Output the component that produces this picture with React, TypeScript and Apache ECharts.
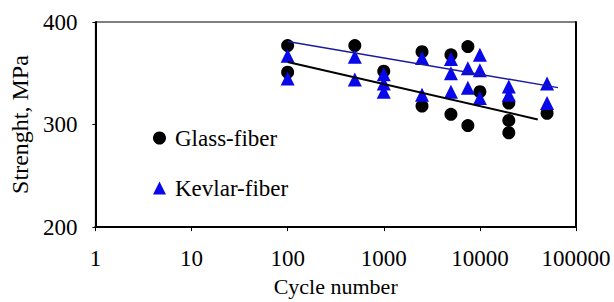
import React, { useEffect, useRef } from "react";
import * as echarts from "echarts";

const glassFiber: [number, number][] = [
  [100, 377], [100, 351],
  [500, 377],
  [1000, 352],
  [2500, 371], [2500, 318],
  [5000, 368], [5000, 310],
  [7500, 376], [7500, 299],
  [10000, 332],
  [20000, 321], [20000, 304], [20000, 292],
  [50000, 311],
];

const kevlarFiber: [number, number][] = [
  [100, 367], [100, 345],
  [500, 366], [500, 344],
  [1000, 349], [1000, 340], [1000, 332],
  [2500, 365], [2500, 329],
  [5000, 364], [5000, 350], [5000, 332],
  [7500, 355], [7500, 336],
  [10000, 368], [10000, 353], [10000, 326],
  [20000, 337], [20000, 329],
  [50000, 340], [50000, 321],
];

const kevlarTrend: [number, number][] = [[100, 381], [65000, 336]];
const glassTrend: [number, number][] = [[100, 361], [40000, 305]];

const xTicks = [1, 10, 100, 1000, 10000, 100000];
const yTicks = [200, 300, 400];

const FONT = "'Liberation Serif', 'Times New Roman', serif";

export default function App() {
  const ref = useRef<HTMLDivElement>(null);
  useEffect(() => {
    if (!ref.current) return;
    const chart = echarts.init(ref.current, undefined, { renderer: "svg" });
    chart.setOption({
      animation: false,
      backgroundColor: "#fff",
      textStyle: { fontFamily: FONT, color: "#000" },
      grid: {
        left: 92,
        right: 38,
        top: 22,
        bottom: 74,
        show: true,
        borderColor: "#000",
        borderWidth: 1,
      },
      legend: {
        data: [
          { name: "Glass-fiber", icon: "circle" },
          { name: "Kevlar-fiber", icon: "triangle" },
        ],
        orient: "vertical",
        left: 148,
        top: 121,
        itemWidth: 13,
        itemHeight: 13,
        itemGap: 26,
        textStyle: {
          fontSize: 23,
          fontFamily: FONT,
          color: "#000",
          lineHeight: 24,
          padding: [0, 0, 0, 4],
        },
      },
      xAxis: {
        type: "log",
        logBase: 10,
        min: xTicks[0],
        max: xTicks[xTicks.length - 1],
        name: "Cycle number",
        nameLocation: "middle",
        nameGap: 47,
        nameTextStyle: { fontSize: 22, fontFamily: FONT, color: "#000" },
        axisLine: { show: true, lineStyle: { color: "#000", width: 2 } },
        axisTick: { show: true, length: 4, lineStyle: { color: "#000" } },
        axisLabel: {
          formatter: (v: number) => String(Math.round(v)),
          fontSize: 23,
          fontFamily: FONT,
          color: "#000",
          margin: 20,
        },
        splitLine: { show: false },
        minorTick: { show: false },
      },
      yAxis: [
        {
          type: "value",
          min: yTicks[0],
          max: yTicks[yTicks.length - 1],
          interval: 100,
          name: "Strenght, MPa",
          nameLocation: "middle",
          nameGap: 63,
          nameRotate: 90,
          nameTextStyle: { fontSize: 24, fontFamily: FONT, color: "#000" },
          axisLine: { show: true, lineStyle: { color: "#000", width: 2 } },
          axisTick: { show: true, length: 3, lineStyle: { color: "#000" } },
          axisLabel: {
            fontSize: 23,
            fontFamily: FONT,
            color: "#000",
            margin: 18,
          },
          splitLine: { show: false },
        },
        {
          type: "value",
          position: "right",
          min: yTicks[0],
          max: yTicks[yTicks.length - 1],
          interval: 100,
          axisLine: { show: true, lineStyle: { color: "#000", width: 2 } },
          axisTick: { show: false },
          axisLabel: { show: false },
          splitLine: { show: false },
        },
      ],
      series: [
        {
          name: "Glass-fiber",
          type: "scatter",
          data: glassFiber,
          symbol: "circle",
          symbolSize: 13,
          itemStyle: { color: "#000", opacity: 1 },
          z: 2,
        },
        {
          name: "Kevlar-fiber",
          type: "scatter",
          data: kevlarFiber,
          symbol: "triangle",
          symbolSize: 14,
          itemStyle: { color: "#0808e8", opacity: 1 },
          z: 3,
        },
        {
          name: "Kevlar trend",
          type: "line",
          data: kevlarTrend,
          symbol: "none",
          lineStyle: { color: "#1a1aa0", width: 1.5 },
          z: 4,
        },
        {
          name: "Glass trend",
          type: "line",
          data: glassTrend,
          symbol: "none",
          lineStyle: { color: "#000", width: 2 },
          z: 4,
        },
      ],
    });
    return () => chart.dispose();
  }, []);
  return (
    <div
      ref={ref}
      style={{ position: "fixed", left: 0, top: 0, width: 614, height: 302 }}
    />
  );
}
